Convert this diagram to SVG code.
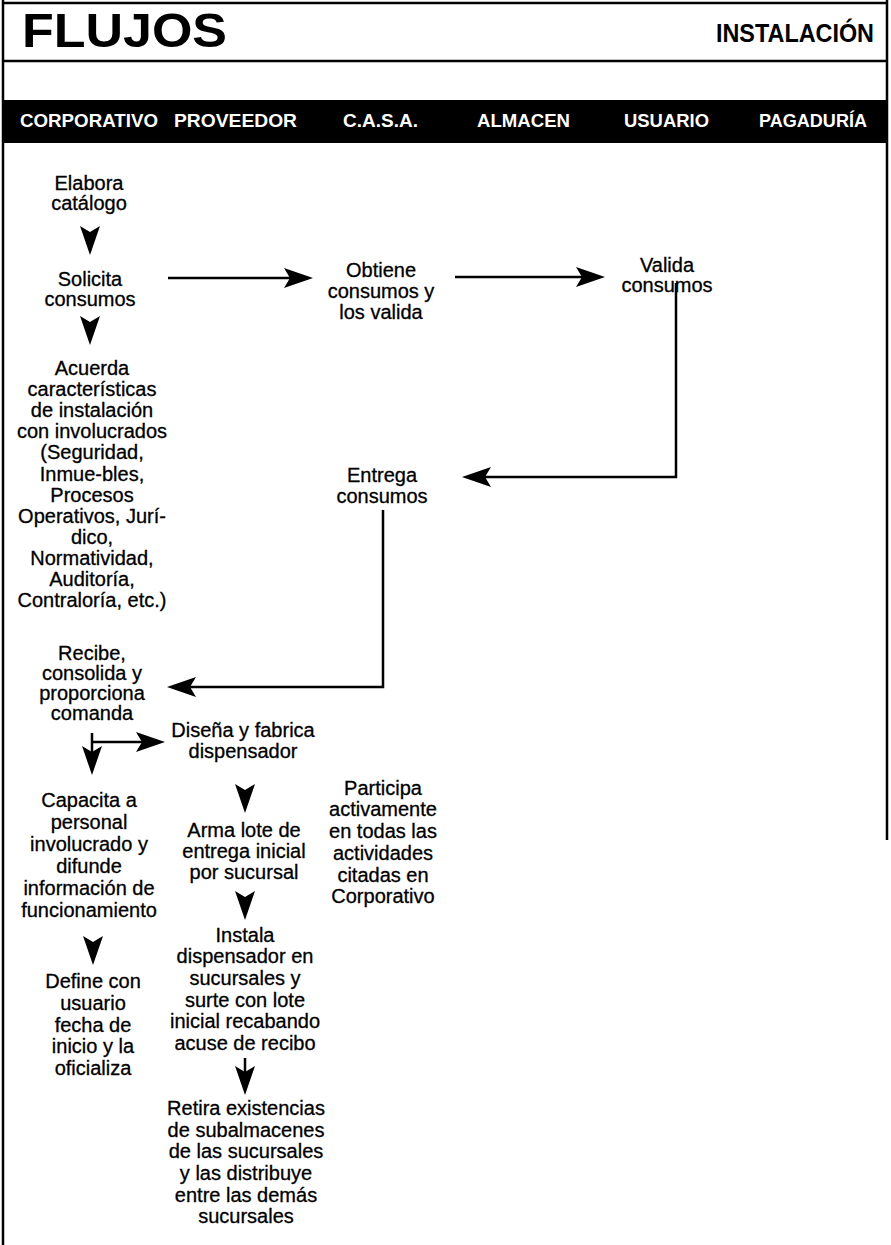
<svg xmlns="http://www.w3.org/2000/svg" xmlns:xlink="http://www.w3.org/1999/xlink" width="891" height="1245" viewBox="0 0 891 1245">
<style>
.frame{stroke:#000;stroke-width:2.5;fill:none}
.t{font-family:"Liberation Sans",Arial,sans-serif;font-size:20px;fill:#000;stroke:#000;stroke-width:0.3;text-anchor:middle}
.lane{font-family:"Liberation Sans",Arial,sans-serif;font-size:17.5px;font-weight:bold;fill:#fff}
.title{font-family:"Liberation Sans",Arial,sans-serif;font-weight:bold;fill:#000}
.ln{stroke:#000;stroke-width:2.5;fill:none}
</style>
<defs>
<path id="ah" d="M0,0 L-29,-10 L-23,0 L-29,10 Z" fill="#000"/>
</defs>
<rect width="891" height="1245" fill="#fff"/>
<g id="frame">
<line class="frame" x1="3" y1="3" x2="888" y2="3"/>
<line class="frame" x1="3" y1="0" x2="3" y2="1245"/>
<line class="frame" x1="887" y1="0" x2="887" y2="840"/>
<line class="frame" x1="3" y1="61" x2="888" y2="61"/>
<text class="title" x="22" y="47" font-size="48" textLength="205" lengthAdjust="spacingAndGlyphs">FLUJOS</text>
<text class="title" x="716" y="42" font-size="25" textLength="158" lengthAdjust="spacingAndGlyphs">INSTALACIÓN</text>
</g>
<g id="lanes">
<rect x="3" y="100" width="885" height="43" fill="#000"/>
<text class="lane" x="20" y="127" textLength="138" lengthAdjust="spacingAndGlyphs">CORPORATIVO</text>
<text class="lane" x="174" y="127" textLength="123" lengthAdjust="spacingAndGlyphs">PROVEEDOR</text>
<text class="lane" x="343" y="127" textLength="75" lengthAdjust="spacingAndGlyphs">C.A.S.A.</text>
<text class="lane" x="477" y="127" textLength="93" lengthAdjust="spacingAndGlyphs">ALMACEN</text>
<text class="lane" x="624" y="127" textLength="85" lengthAdjust="spacingAndGlyphs">USUARIO</text>
<text class="lane" x="759" y="127" textLength="108" lengthAdjust="spacingAndGlyphs">PAGADURÍA</text>
</g>
<g id="connectors">
<use xlink:href="#ah" href="#ah" transform="translate(90,255) rotate(90)"/>
<use xlink:href="#ah" href="#ah" transform="translate(90,345) rotate(90)"/>
<line class="ln" x1="168" y1="278" x2="292" y2="278"/>
<use xlink:href="#ah" href="#ah" transform="translate(313,278)"/>
<line class="ln" x1="455" y1="277" x2="584" y2="277"/>
<use xlink:href="#ah" href="#ah" transform="translate(605,277)"/>
<path class="ln" d="M676,283 V477 H484"/>
<use xlink:href="#ah" href="#ah" transform="translate(462,477) rotate(180)"/>
<path class="ln" d="M383,510 V687 H189"/>
<use xlink:href="#ah" href="#ah" transform="translate(167,687) rotate(180)"/>
<path class="ln" d="M92,733 V755"/>
<use xlink:href="#ah" href="#ah" transform="translate(92,775) rotate(90)"/>
<path class="ln" d="M92,742 H145"/>
<use xlink:href="#ah" href="#ah" transform="translate(165,742)"/>
<use xlink:href="#ah" href="#ah" transform="translate(245,813) rotate(90)"/>
<use xlink:href="#ah" href="#ah" transform="translate(245,920) rotate(90)"/>
<use xlink:href="#ah" href="#ah" transform="translate(93,965) rotate(90)"/>
<path class="ln" d="M245,1058 V1075"/>
<use xlink:href="#ah" href="#ah" transform="translate(245,1095) rotate(90)"/>
</g>
<g id="n-elabora"><text class="t" x="89" y="190">Elabora</text><text class="t" x="89" y="210">catálogo</text></g>
<g id="n-solicita"><text class="t" x="90" y="286">Solicita</text><text class="t" x="90" y="306">consumos</text></g>
<g id="n-acuerda">
<text class="t" x="92" y="375">Acuerda</text>
<text class="t" x="92" y="396.1">características</text>
<text class="t" x="92" y="417.2">de instalación</text>
<text class="t" x="92" y="438.3">con involucrados</text>
<text class="t" x="92" y="459.4">(Seguridad,</text>
<text class="t" x="92" y="480.5">Inmue-bles,</text>
<text class="t" x="92" y="501.6">Procesos</text>
<text class="t" x="92" y="522.7">Operativos, Jurí-</text>
<text class="t" x="92" y="543.8">dico,</text>
<text class="t" x="92" y="564.9">Normatividad,</text>
<text class="t" x="92" y="586">Auditoría,</text>
<text class="t" x="92" y="607.1">Contraloría, etc.)</text>
</g>
<g id="n-obtiene"><text class="t" x="381" y="277">Obtiene</text><text class="t" x="381" y="298">consumos y</text><text class="t" x="381" y="319">los valida</text></g>
<g id="n-valida"><text class="t" x="667" y="272">Valida</text><text class="t" x="667" y="292">consumos</text></g>
<g id="n-entrega"><text class="t" x="382" y="482">Entrega</text><text class="t" x="382" y="503">consumos</text></g>
<g id="n-recibe"><text class="t" x="92" y="660">Recibe,</text><text class="t" x="92" y="680">consolida y</text><text class="t" x="92" y="700">proporciona</text><text class="t" x="92" y="720">comanda</text></g>
<g id="n-disena"><text class="t" x="243" y="737">Diseña y fabrica</text><text class="t" x="243" y="758">dispensador</text></g>
<g id="n-participa">
<text class="t" x="383" y="795">Participa</text>
<text class="t" x="383" y="816">activamente</text>
<text class="t" x="383" y="838">en todas las</text>
<text class="t" x="383" y="860">actividades</text>
<text class="t" x="383" y="882">citadas en</text>
<text class="t" x="383" y="903">Corporativo</text>
</g>
<g id="n-capacita">
<text class="t" x="89" y="807">Capacita a</text>
<text class="t" x="89" y="829">personal</text>
<text class="t" x="89" y="851">involucrado y</text>
<text class="t" x="89" y="873">difunde</text>
<text class="t" x="89" y="895">información de</text>
<text class="t" x="89" y="917">funcionamiento</text>
</g>
<g id="n-define">
<text class="t" x="93" y="988">Define con</text>
<text class="t" x="93" y="1010">usuario</text>
<text class="t" x="93" y="1032">fecha de</text>
<text class="t" x="93" y="1053">inicio y la</text>
<text class="t" x="93" y="1075">oficializa</text>
</g>
<g id="n-arma"><text class="t" x="244" y="837">Arma lote de</text><text class="t" x="244" y="858">entrega inicial</text><text class="t" x="244" y="879">por sucursal</text></g>
<g id="n-instala">
<text class="t" x="245" y="942">Instala</text>
<text class="t" x="245" y="963">dispensador en</text>
<text class="t" x="245" y="985">sucursales y</text>
<text class="t" x="245" y="1007">surte con lote</text>
<text class="t" x="245" y="1028">inicial recabando</text>
<text class="t" x="245" y="1050">acuse de recibo</text>
</g>
<g id="n-retira">
<text class="t" x="246" y="1115">Retira existencias</text>
<text class="t" x="246" y="1137">de subalmacenes</text>
<text class="t" x="246" y="1158">de las sucursales</text>
<text class="t" x="246" y="1180">y las distribuye</text>
<text class="t" x="246" y="1202">entre las demás</text>
<text class="t" x="246" y="1223">sucursales</text>
</g>
</svg>
